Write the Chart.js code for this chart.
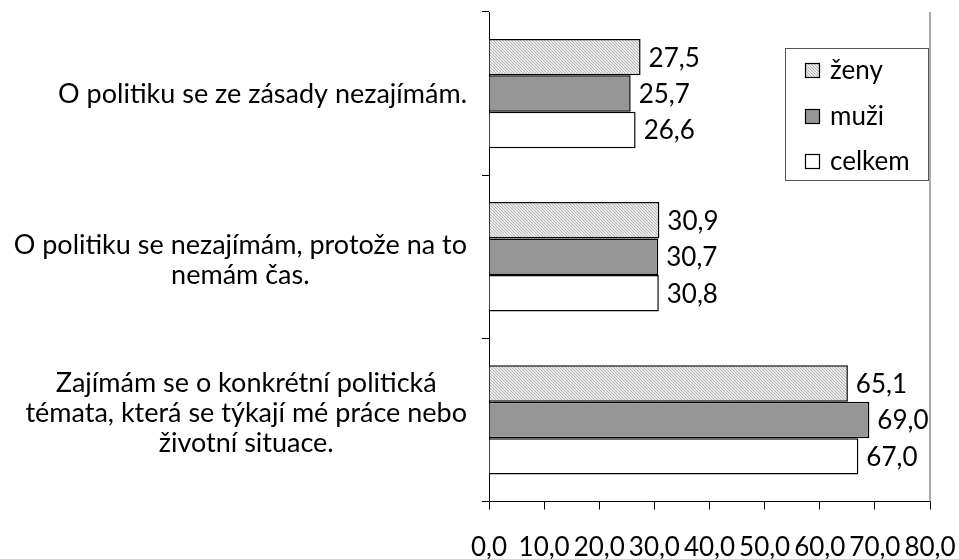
<!DOCTYPE html>
<html>
<head>
<meta charset="utf-8">
<script src="https://cdn.jsdelivr.net/npm/chart.js@4.4.0/dist/chart.umd.min.js"></script>
<style>
  html, body { margin: 0; padding: 0; background: #fff; }
  #wrap { width: 959px; height: 559px; }
</style>
</head>
<body>
<div id="wrap"><canvas id="myChart" width="959" height="559"></canvas></div>
<script>
// data
var categories = [
	['O politiku se ze zásady nezajímám.'],
	['O politiku se nezajímám, protože na to', 'nemám čas.'],
	['Zajímám se o konkrétní politická', 'témata, která se týkají mé práce nebo', 'životní situace.']
];
var seriesNames = ['ženy', 'muži', 'celkem'];
var zeny = [27.5, 30.9, 65.1];
var muzi = [25.7, 30.7, 69.0];
var celkem = [26.6, 30.8, 67.0];
var xTicks = [0, 10, 20, 30, 40, 50, 60, 70, 80];

var FONT = 'Lato';
var FSIZE = 26;
var CATSIZE = 27;

function fmt(v) {
	return v.toFixed(1).replace('.', ',');
}

function makeHatch() {
	var c = document.createElement('canvas');
	c.width = 6; c.height = 6;
	var g = c.getContext('2d');
	g.fillStyle = '#ffffff';
	g.fillRect(0, 0, 6, 6);
	g.strokeStyle = '#b4b4b4';
	g.lineWidth = 1.2;
	for (var k = -6; k <= 6; k += 3) {
		g.beginPath();
		g.moveTo(k, 0);
		g.lineTo(k + 6, 6);
		g.stroke();
	}
	return g.createPattern(c, 'repeat');
}

var ctx = document.getElementById('myChart').getContext('2d');
var hatch = makeHatch();
var fills = [hatch, '#969696', '#ffffff'];

// category labels: each block right aligned at the axis, lines centered inside
var catLabels = {
	id: 'catLabels',
	afterDraw: function(chart) {
		var c = chart.ctx, y = chart.scales.y;
		c.save();
		c.font = CATSIZE + 'px ' + FONT;
		c.fillStyle = '#000';
		c.textAlign = 'center';
		c.textBaseline = 'middle';
		var lh = 30, right = 467;
		var shift = [1, 4, -7];
		categories.forEach(function(lines, i) {
			var w = 0;
			lines.forEach(function(l) { w = Math.max(w, c.measureText(l).width); });
			var cx = right - w / 2;
			var cy = y.getPixelForValue(i) + shift[i];
			var y0 = cy - (lines.length - 1) * lh / 2;
			lines.forEach(function(l, j) { c.fillText(l, cx, y0 + j * lh); });
		});
		c.restore();
	}
};

// value labels to the right of each bar
var valueLabels = {
	id: 'valueLabels',
	afterDatasetsDraw: function(chart) {
		var c = chart.ctx;
		c.save();
		c.font = FSIZE + 'px ' + FONT;
		c.fillStyle = '#000';
		c.textAlign = 'left';
		c.textBaseline = 'middle';
		chart.data.datasets.forEach(function(ds, di) {
			chart.getDatasetMeta(di).data.forEach(function(bar, i) {
				c.fillText(fmt(ds.data[i]), bar.x + 8, bar.y + 1);
			});
		});
		c.restore();
	}
};

// plot right border and boxed legend inside plot
var frameLegend = {
	id: 'frameLegend',
	afterDraw: function(chart) {
		var c = chart.ctx, a = chart.chartArea;
		c.save();
		c.strokeStyle = '#8c8c8c';
		c.lineWidth = 1.5;
		c.beginPath();
		c.moveTo(a.right, a.top);
		c.lineTo(a.right, a.bottom);
		c.stroke();

		var bx = 785.5, by = 48.5, bw = 143, bh = 132;
		c.fillStyle = '#fff';
		c.fillRect(bx, by, bw, bh);
		c.strokeStyle = '#555';
		c.lineWidth = 1;
		c.strokeRect(bx, by, bw, bh);
		c.font = FSIZE + 'px ' + FONT;
		c.textBaseline = 'middle';
		c.textAlign = 'left';
		var rows = [70, 116, 161];
		seriesNames.forEach(function(n, i) {
			c.fillStyle = fills[i];
			c.fillRect(805, rows[i] - 7, 15, 15);
			c.strokeStyle = '#000';
			c.lineWidth = 1.2;
			c.strokeRect(805.5, rows[i] - 6.5, 14, 14);
			c.fillStyle = '#000';
			c.fillText(n, 830, rows[i] + 1);
		});
		c.restore();
	}
};

var chartConfig = {
	type: 'bar',
	data: {
		labels: categories.map(function(l) { return l.join(' '); }),
		datasets: [
			{ label: seriesNames[0], data: zeny, backgroundColor: hatch },
			{ label: seriesNames[1], data: muzi, backgroundColor: '#969696' },
			{ label: seriesNames[2], data: celkem, backgroundColor: '#ffffff' }
		]
	},
	options: {
		indexAxis: 'y',
		responsive: false,
		animation: false,
		layout: { padding: { left: 482, right: 29, top: 12, bottom: 0 } },
		datasets: {
			bar: {
				borderColor: '#000',
				borderWidth: 1.5,
				categoryPercentage: 0.67,
				barPercentage: 1
			}
		},
		plugins: {
			legend: { display: false },
			tooltip: { enabled: false }
		},
		scales: {
			x: {
				min: xTicks[0],
				max: xTicks[xTicks.length - 1],
				afterBuildTicks: function(s) {
					s.ticks = xTicks.map(function(v) { return { value: v }; });
				},
				afterFit: function(s) {
					s.paddingLeft = 0;
					s.paddingRight = 0;
					s.height = 57.5;
				},
				border: { color: '#000', width: 1 },
				grid: { drawOnChartArea: false, drawTicks: true, tickLength: 8, color: '#000' },
				ticks: {
					autoSkip: false,
					maxRotation: 0,
					padding: 25,
					color: '#000',
					font: { family: FONT, size: FSIZE, lineHeight: 1 },
					callback: function(v) { return fmt(v); }
				}
			},
			y: {
				border: { color: '#000', width: 1 },
				grid: { drawOnChartArea: false, drawTicks: true, tickLength: 7, color: '#000' },
				ticks: { display: false }
			}
		}
	},
	plugins: [catLabels, valueLabels, frameLegend]
};

var myChart = new Chart(ctx, chartConfig);
</script>
</body>
</html>
